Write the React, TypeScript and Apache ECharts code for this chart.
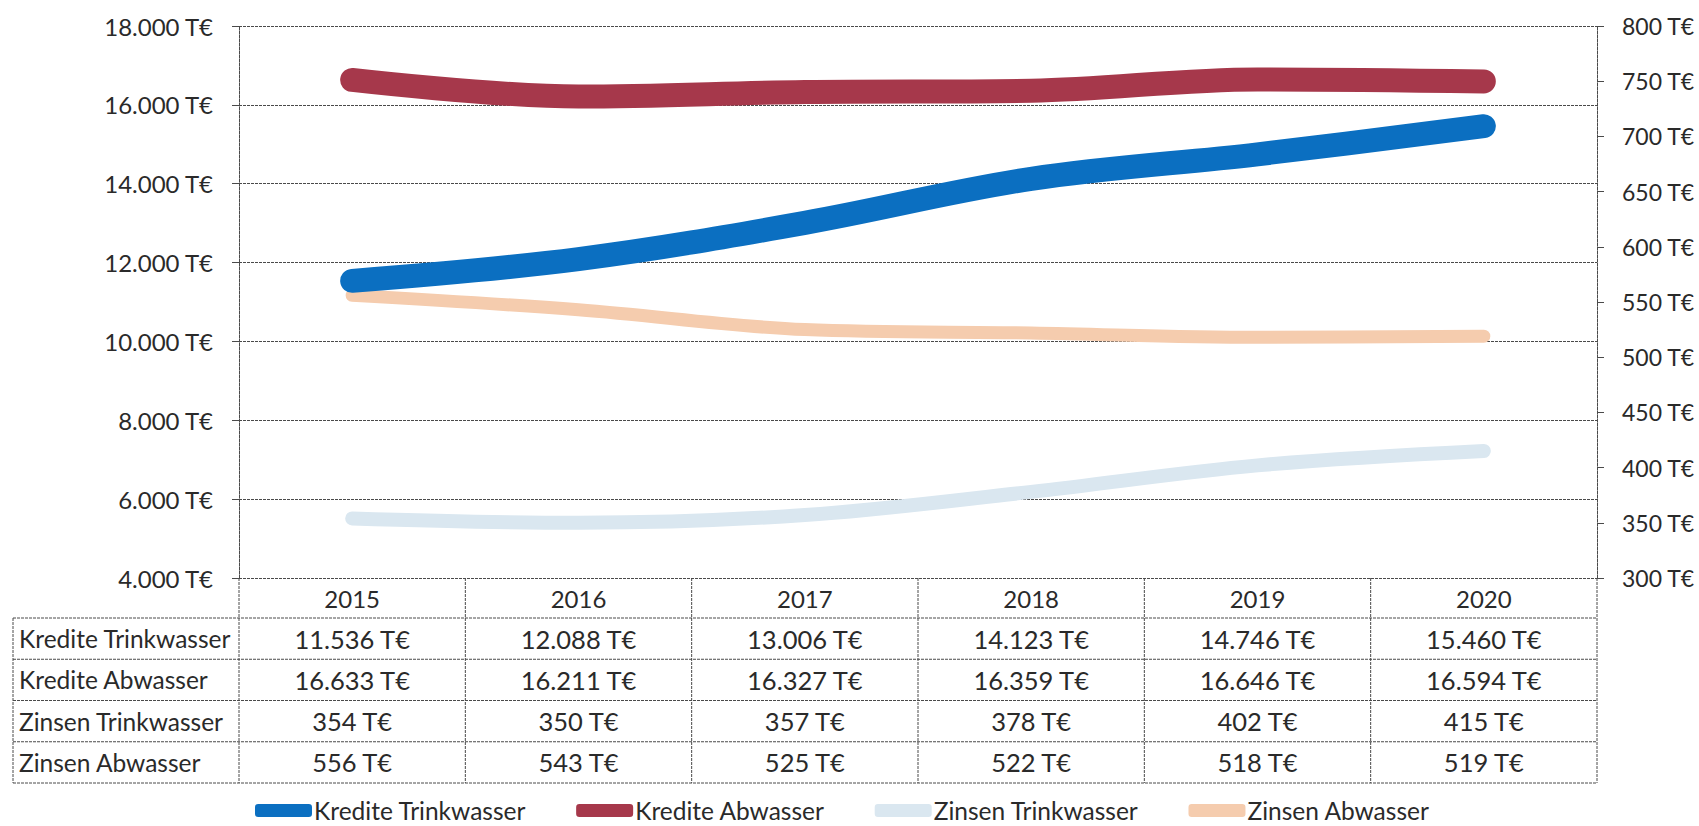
import React, { useEffect, useRef } from "react";
import * as echarts from "echarts";

const years = ["2015", "2016", "2017", "2018", "2019", "2020"];
const krediteTrinkwasser = [11536, 12088, 13006, 14123, 14746, 15460];
const krediteAbwasser = [16633, 16211, 16327, 16359, 16646, 16594];
const zinsenTrinkwasser = [354, 350, 357, 378, 402, 415];
const zinsenAbwasser = [556, 543, 525, 522, 518, 519];
const seriesNames = ["Kredite Trinkwasser", "Kredite Abwasser", "Zinsen Trinkwasser", "Zinsen Abwasser"];

const COLORS = ["#0b6fc1", "#a6384b", "#dae7f0", "#f5ccae"];
const FONT = "Lato, 'Open Sans', sans-serif";

const fmt = (v: number) => String(v).replace(/\B(?=(\d{3})+(?!\d))/g, ".") + " T€";

export default function App() {
  const ref = useRef<HTMLDivElement>(null);
  useEffect(() => {
    document.body.style.margin = "0";
    const chart = echarts.init(ref.current!, undefined, { renderer: "svg" });

    const W = 1699;
    const L = 239, R = 1597, T = 26, B = 578;
    const colW = (R - L) / years.length;
    const headerBottom = 618;
    const tableBottom = 783;
    const tableLeft = 13;
    const rowH = (tableBottom - headerBottom) / 4;
    const lineStyle = { stroke: "#4a4a4a", lineWidth: 1, lineDash: [3, 1] };

    const rows = [krediteTrinkwasser, krediteAbwasser, zinsenTrinkwasser, zinsenAbwasser];
    const graphics: any[] = [];
    for (let i = 0; i <= 4; i++) {
      const y = headerBottom + i * rowH;
      graphics.push({ type: "line", shape: { x1: tableLeft, y1: y, x2: R, y2: y }, style: lineStyle, silent: true });
    }
    graphics.push({ type: "line", shape: { x1: tableLeft, y1: headerBottom, x2: tableLeft, y2: tableBottom }, style: lineStyle });
    for (let k = 0; k <= years.length; k++) {
      const x = L + k * colW;
      graphics.push({ type: "line", shape: { x1: x, y1: B, x2: x, y2: tableBottom }, style: lineStyle });
    }
    rows.forEach((vals, r) => {
      const cy = headerBottom + r * rowH + rowH / 2;
      graphics.push({
        type: "text", x: tableLeft + 6, y: cy,
        style: { text: seriesNames[r], fill: "#2a2a2a", fontSize: 24.5, fontFamily: FONT, verticalAlign: "middle", align: "left" },
      });
      vals.forEach((v, c) => {
        graphics.push({
          type: "text", x: L + c * colW + colW / 2, y: cy,
          style: { text: fmt(v), fill: "#2a2a2a", fontSize: 25.5, fontFamily: FONT, verticalAlign: "middle", align: "center" },
        });
      });
    });

    const mkLine = (name: string, data: number[], axis: number, color: string, width: number, z: number) => ({
      name, type: "line", yAxisIndex: axis, data, smooth: 0.35, showSymbol: false, symbol: "none", z,
      lineStyle: { color, width, cap: "round", join: "round" }, itemStyle: { color },
    });

    chart.setOption({
      animation: false,
      backgroundColor: "#ffffff",
      grid: { left: L, right: W - R, top: T, bottom: 826 - B, outerBoundsMode: "none", containLabel: false },
      xAxis: {
        type: "category", data: years, boundaryGap: true,
        axisLine: { show: false }, axisTick: { show: false },
        axisLabel: { margin: 8, fontSize: 24, fontFamily: FONT, color: "#2a2a2a" },
      },
      yAxis: [
        {
          type: "value", min: 4000, max: 18000, interval: 2000, position: "left",
          axisLine: { show: true, lineStyle: { color: "#4a4a4a", width: 1, type: [3, 1] } },
          axisTick: { show: true, length: 7, lineStyle: { color: "#4a4a4a" } },
          splitLine: { show: true, lineStyle: { color: "#4a4a4a", width: 1, type: [3, 1] } },
          axisLabel: { formatter: (v: number) => fmt(v), fontSize: 24, fontFamily: FONT, color: "#2a2a2a", margin: 26 },
        },
        {
          type: "value", min: 300, max: 800, interval: 50, position: "right",
          axisLine: { show: true, lineStyle: { color: "#4a4a4a", width: 1, type: [3, 1] } },
          axisTick: { show: true, length: 7, lineStyle: { color: "#4a4a4a" } },
          splitLine: { show: false },
          axisLabel: { formatter: (v: number) => fmt(v), fontSize: 23, fontFamily: FONT, color: "#2a2a2a", margin: 25 },
        },
      ],
      legend: {
        left: 255, top: 798, padding: 0, itemGap: 50, itemWidth: 57, itemHeight: 13,
        icon: "roundRect",
        textStyle: { fontSize: 24.5, fontFamily: FONT, color: "#2a2a2a", padding: [0, 0, 0, -3] },
        data: seriesNames,
      },
      series: [
        mkLine(seriesNames[2], zinsenTrinkwasser, 1, COLORS[2], 14, 2),
        mkLine(seriesNames[3], zinsenAbwasser, 1, COLORS[3], 13, 2),
        mkLine(seriesNames[0], krediteTrinkwasser, 0, COLORS[0], 24, 3),
        mkLine(seriesNames[1], krediteAbwasser, 0, COLORS[1], 24, 3),
      ],
      graphic: graphics,
    });
    return () => chart.dispose();
  }, []);
  return <div ref={ref} style={{ width: 1699, height: 826 }} />;
}
